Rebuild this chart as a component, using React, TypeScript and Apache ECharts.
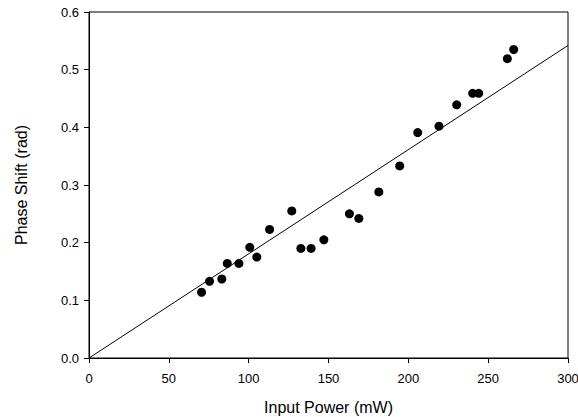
import React, { useEffect, useRef } from "react";
import * as echarts from "echarts";

const inputPower = [70.5, 75.5, 83.2, 86.6, 93.9, 100.7, 105.1, 113.1, 127.0, 132.7, 139.1, 147.1, 163.1, 169.0, 181.5, 194.6, 205.9, 219.2, 230.3, 240.3, 244.1, 262.0, 266.0];
const phaseShift = [0.114, 0.133, 0.137, 0.164, 0.164, 0.192, 0.175, 0.223, 0.255, 0.190, 0.190, 0.205, 0.250, 0.242, 0.288, 0.333, 0.391, 0.402, 0.439, 0.459, 0.459, 0.519, 0.535];
const fitX = [0, 300];
const fitY = [0, 0.542];
const xTicks = [0, 50, 100, 150, 200, 250, 300];
const yTicks = [0.0, 0.1, 0.2, 0.3, 0.4, 0.5, 0.6];

export default function App() {
  const ref = useRef<HTMLDivElement>(null);
  useEffect(() => {
    if (!ref.current) return;
    const chart = echarts.init(ref.current, null, { renderer: "svg" });
    const font = "'Liberation Sans', Arial, sans-serif";
    chart.setOption({
      animation: false,
      backgroundColor: "#fff",
      grid: {
        left: 89, right: 10, top: 12, bottom: 59,
        containLabel: false, outerBoundsMode: "none",
        show: true, borderColor: "#000", borderWidth: 1,
      },
      xAxis: {
        type: "value",
        min: xTicks[0],
        max: xTicks[xTicks.length - 1],
        interval: 50,
        name: "Input Power (mW)",
        nameLocation: "middle",
        nameGap: 41,
        nameTextStyle: { fontFamily: font, fontSize: 16, color: "#000" },
        axisLine: { lineStyle: { color: "#000", width: 1 } },
        axisTick: { show: true, length: 5, lineStyle: { color: "#000" } },
        axisLabel: { fontFamily: font, fontSize: 13, color: "#000", margin: 14 },
        splitLine: { show: false },
      },
      yAxis: {
        type: "value",
        min: yTicks[0],
        max: yTicks[yTicks.length - 1],
        interval: 0.1,
        name: "Phase Shift (rad)",
        nameLocation: "middle",
        nameGap: 60,
        nameTextStyle: { fontFamily: font, fontSize: 16, color: "#000" },
        axisLine: { show: true, lineStyle: { color: "#000", width: 1 } },
        axisTick: { show: true, length: 5, lineStyle: { color: "#000" } },
        axisLabel: { fontFamily: font, fontSize: 13, color: "#000", margin: 10, formatter: (v: number) => v.toFixed(1) },
        splitLine: { show: false },
      },
      series: [
        {
          type: "line",
          data: fitX.map((x, i) => [x, fitY[i]]),
          showSymbol: false,
          symbol: "none",
          lineStyle: { color: "#000", width: 1 },
          silent: true,
        },
        {
          type: "scatter",
          data: inputPower.map((x, i) => [x, phaseShift[i]]),
          symbol: "circle",
          symbolSize: 9,
          itemStyle: { color: "#000", opacity: 1 },
        },
      ],
    });
    return () => chart.dispose();
  }, []);
  return <div ref={ref} style={{ width: 578, height: 417, position: "absolute", left: 0, top: 0 }} />;
}
